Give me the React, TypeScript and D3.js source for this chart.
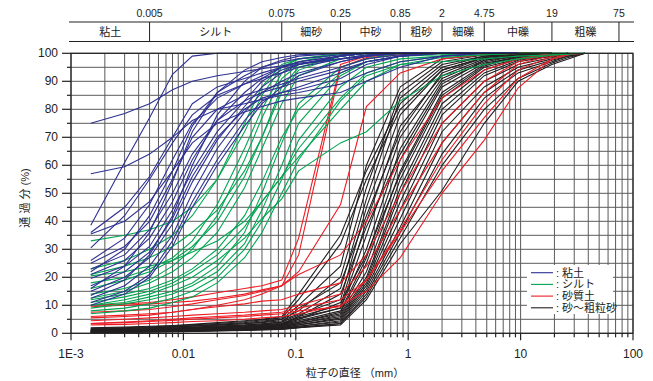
import * as d3 from "d3";

// particle diameters (mm) where each sample was measured
const DIAMETERS = [
  0.0015, 0.003, 0.005, 0.008, 0.012, 0.02, 0.035, 0.05, 0.075, 0.106, 0.25,
  0.425, 0.85, 2, 4.75, 9.5, 19, 26.5, 37.5,
];

// percent passing, one row per sample
const CLAY = [
  [75, 78.5, 82, 87, 90, 92, 93.5, 94.5, 95.5, 96.5, 98, 99, 100, 100, 100, 100],
  [57, 59.5, 64, 70, 76, 80, 82, 83.5, 85, 86, 89, 93, 97, 99, 100, 100],
  [38.6, 61, 77, 92.5, 99, 100, 100, 100, 100, 100, 100, 100, 100, 100, 100, 100],
  [36, 45, 56, 70, 82, 88, 91, 93, 95, 96, 98, 99.5, 100, 100, 100, 100],
  [30.5, 42, 55, 68, 78, 85, 89, 91, 93, 95, 98, 99, 100, 100, 100, 100],
  [26, 34, 46, 62, 75, 84, 89, 92, 95, 97, 99, 100, 100, 100, 100, 100],
  [25, 31, 40, 55, 70, 80, 85, 87, 89, 91, 95, 98, 99.5, 100, 100, 100],
  [23, 28, 37, 50, 64, 76, 83, 86, 88, 90, 94, 97, 99, 100, 100, 100],
  [21, 26, 34, 47, 62, 76, 86, 91, 95, 97, 99, 100, 100, 100, 100, 100],
  [19.6, 24, 31, 44, 58, 72, 83, 90, 94, 96, 99, 100, 100, 100, 100, 100],
  [17, 22, 29, 41, 56, 70, 80, 84, 86, 87, 91, 96, 99, 100, 100, 100],
  [15, 20, 27, 39, 54, 69, 81, 88, 93, 96, 99, 100, 100, 100, 100, 100],
  [12.5, 17, 24, 35, 50, 66, 79, 86, 90, 93, 97, 99, 100, 100, 100, 100],
  [11, 15, 21, 33, 47, 62, 76, 83, 86, 88, 93, 97, 99, 100, 100, 100],
  [10, 14, 20, 31, 45, 60, 74, 82, 88, 92, 97, 99, 100, 100, 100, 100],
  [13.5, 19, 28, 42, 60, 78, 90, 95, 97.5, 99, 100, 100, 100, 100, 100, 100],
  [16, 24, 36, 54, 72, 86, 94, 97, 98.5, 99.5, 100, 100, 100, 100, 100, 100],
  [22, 30, 42, 58, 74, 86, 92, 95, 97, 98, 99.5, 100, 100, 100, 100, 100],
  [35.5, 40, 47, 58, 68, 75, 79, 81, 83, 84, 86, 90, 95, 99, 100, 100],
];

const SILT = [
  [33, 35, 37, 40, 45, 55, 72, 85, 95, 98, 99.5, 100, 100, 100, 100],
  [23, 26, 30, 35, 42, 55, 75, 88, 96, 98, 100, 100, 100, 100],
  [21, 24, 27, 31, 36, 44, 58, 70, 86, 94, 99, 100, 100, 100],
  [12.5, 15, 18, 22, 27, 36, 52, 66, 82, 92, 98, 99.5, 100, 100],
  [12, 14, 16, 19, 23, 30, 42, 54, 70, 80, 93, 97, 99, 100],
  [11, 13, 15, 18, 22, 28, 38, 47, 56, 63, 80, 90, 96, 98.5, 99.5, 100, 100, 100],
  [10, 12, 14, 17, 20, 26, 34, 41, 48, 58, 68, 72, 83, 92, 96, 98, 99.3, 99.7, 100],
  [10, 11, 13, 15, 18, 24, 36, 50, 68, 82, 95, 98, 100, 100],
  [9, 10.5, 12, 14, 17, 22, 32, 44, 60, 75, 92, 97, 99, 99.5, 100, 100],
  [8, 9, 10.5, 12.5, 15, 20, 30, 40, 55, 69, 88, 95, 98, 99, 99.5, 100, 100, 100],
  [7, 8, 9, 11, 13, 18, 27, 36, 50, 62, 83, 92, 96, 97, 98, 99, 99.5, 100, 100],
  [16, 19, 22, 26, 31, 40, 56, 70, 88, 95, 99, 100, 100, 100],
  [18, 20, 23, 27, 33, 46, 66, 80, 93, 97, 100, 100, 100, 100],
  [14, 16, 19, 24, 30, 42, 62, 77, 91, 96, 99, 100, 100, 100],
  [20.5, 22, 24, 26, 29, 33, 40, 47, 56, 66, 84, 93, 97, 99, 100, 100],
];

const SANDY_SOIL = [
  [10, 10.5, 11, 12, 13, 14.5, 16, 17, 19, 34, 96, 99, 100, 100, 100, 100],
  [9.5, 10, 10.5, 11, 11.5, 12.5, 14, 15.5, 17, 28, 95, 98.5, 99.5, 100, 100, 100],
  [5.5, 6, 6.5, 7.5, 8.5, 10, 12, 14, 17, 22, 46, 81, 93, 98, 99.5, 100, 100],
  [7.5, 8, 8.5, 9.5, 10.5, 12, 13.5, 15, 17, 21, 28, 40, 62, 84, 94, 98, 100],
  [6, 6.5, 7, 7.5, 8.5, 9.5, 10.5, 11.5, 12, 14, 18, 28, 50, 75, 90, 97, 100],
  [4.5, 5, 5.5, 6, 6.5, 7, 7.5, 8, 8.5, 10, 14, 24, 44, 68, 86, 96, 99.5, 100],
  [3.5, 4, 4.5, 5, 5.5, 6, 6.5, 7, 7.5, 9, 12, 19, 37, 62, 82, 94, 99, 100],
  [3.5, 3.8, 4.2, 4.6, 5, 5.5, 6, 6.5, 7, 8, 9.5, 19, 36, 58, 77, 91, 98, 100],
  [3, 3.2, 3.5, 3.8, 4.2, 4.5, 5, 5.5, 6, 7, 10, 15, 27, 50, 69, 87.6, 98, 99.5, 100],
];

const SAND = [
  [2, 2.2, 2.5, 2.8, 3.2, 3.8, 4.5, 5, 6, 14, 35, 58, 82, 95, 99, 100, 100],
  [1.8, 2, 2.3, 2.6, 3, 3.5, 4.2, 4.8, 5.5, 12, 32, 55, 80, 94, 98.5, 100, 100],
  [1.5, 1.8, 2, 2.3, 2.6, 3, 3.5, 4, 5, 8, 20, 52, 86, 97, 99.5, 100, 100],
  [1.5, 1.7, 1.9, 2.2, 2.5, 2.9, 3.4, 3.8, 4.5, 7, 16, 48, 84, 96, 99, 100, 100],
  [1.2, 1.4, 1.6, 1.9, 2.2, 2.6, 3, 3.4, 4, 6.5, 12, 45, 78, 94, 98.5, 99.5, 100],
  [1.2, 1.3, 1.5, 1.8, 2, 2.3, 2.7, 3, 3.5, 6, 10, 40, 74, 92, 98, 99.5, 100],
  [1, 1.2, 1.4, 1.6, 1.9, 2.2, 2.6, 3, 3.5, 5.5, 9, 35, 70, 91, 97.5, 99, 100],
  [1, 1.1, 1.3, 1.5, 1.7, 2, 2.4, 2.8, 3.2, 5, 9, 30, 66, 90, 97, 99, 100],
  [0.8, 1, 1.2, 1.4, 1.6, 1.9, 2.2, 2.6, 3, 4.5, 8, 27, 62, 88, 96.5, 98.5, 100],
  [0.8, 0.9, 1.1, 1.3, 1.5, 1.8, 2.1, 2.4, 2.8, 4, 7.5, 25, 58, 86, 96, 98.5, 99.5, 100],
  [0.7, 0.8, 1, 1.2, 1.4, 1.6, 1.9, 2.2, 2.6, 4, 7, 22, 55, 84, 95, 98, 99.5, 100],
  [0.6, 0.8, 0.9, 1.1, 1.3, 1.5, 1.8, 2.1, 2.4, 3.5, 6.5, 20, 52, 82, 94, 98, 99.5, 100],
  [0.6, 0.7, 0.8, 1, 1.2, 1.4, 1.7, 2, 2.3, 3.5, 6, 19, 50, 80, 93, 97.5, 99, 100],
  [0.5, 0.6, 0.8, 0.9, 1.1, 1.3, 1.6, 1.8, 2.1, 3, 5.5, 18, 47, 78, 92, 97, 99, 100],
  [0.5, 0.6, 0.7, 0.9, 1, 1.2, 1.5, 1.7, 2, 3, 5, 17, 44, 75, 90, 96, 98.5, 100],
  [0.5, 0.6, 0.7, 0.8, 0.9, 1.1, 1.4, 1.6, 1.9, 2.5, 4.5, 16, 41, 72, 88, 95, 98, 99.5, 100],
  [0.4, 0.5, 0.6, 0.7, 0.9, 1, 1.3, 1.5, 1.8, 2.5, 4, 15, 38, 68, 86, 94, 97.5, 99, 100],
  [0.4, 0.5, 0.6, 0.7, 0.8, 1, 1.2, 1.4, 1.7, 2.2, 3.5, 14, 36, 64, 84, 93, 97, 99, 100],
  [0.3, 0.4, 0.5, 0.6, 0.7, 0.9, 1.1, 1.3, 1.5, 2, 3.5, 13, 34, 60, 80, 91, 96.5, 98.5, 100],
  [0.3, 0.4, 0.5, 0.6, 0.7, 0.8, 1, 1.2, 1.4, 2, 3, 12, 32, 51, 75, 90, 96, 98, 100],
  [1.5, 1.7, 2, 2.3, 2.7, 3.2, 3.8, 4.4, 5, 10, 24, 60, 88, 98, 99.5, 100, 100],
  [1, 1.2, 1.4, 1.7, 2, 2.4, 2.9, 3.3, 4, 9, 18, 42, 72, 93, 98.5, 100, 100],
  [0.7, 0.9, 1.1, 1.3, 1.5, 1.8, 2.2, 2.6, 3, 6, 14, 38, 64, 89, 97.5, 99.5, 100],
  [0.6, 0.7, 0.9, 1.1, 1.3, 1.6, 2, 2.4, 2.8, 5, 11, 28, 57, 85, 95.5, 99, 100],
];

const GROUPS = [
  { name: ": 砂～粗粒砂", color: "#231f20", rows: SAND },
  { name: ": 砂質土", color: "#ed1c24", rows: SANDY_SOIL },
  { name: ": シルト", color: "#00a651", rows: SILT },
  { name: ": 粘土", color: "#2e3192", rows: CLAY },
];
const LEGEND_ORDER = [3, 2, 1, 0];

const BAND_BOUNDS = [0.005, 0.075, 0.25, 0.85, 2, 4.75, 19, 75];
const BAND_BOUND_LABELS = ["0.005", "0.075", "0.25", "0.85", "2", "4.75", "19", "75"];
const BAND_NAMES = ["粘土", "シルト", "細砂", "中砂", "粗砂", "細礫", "中礫", "粗礫", ""];
const X_LABELS = ["1E-3", "0.01", "0.1", "1", "10", "100"];

const W = 653;
const H = 381;
const FONT = "'Liberation Sans', Arial, 'Noto Sans CJK JP', sans-serif";

export default function App() {
  const x = d3.scaleLog().domain([0.001, 100]).range([71, 633]);
  const y = d3.scaleLinear().domain([0, 100]).range([333.3, 53.3]);
  const [x0, x1] = x.range();
  const [y0, y1] = y.range();

  const xGrid = x.ticks();
  const yGrid = y.ticks(20);
  const decades = X_LABELS.map((_, i) => Math.pow(10, i - 3));

  const line = d3
    .line<number>()
    .x((_, i) => x(DIAMETERS[i]))
    .y((d) => y(d));

  const bandEdges = [0.001, ...BAND_BOUNDS, 100];

  return (
    <svg
      width={W}
      height={H}
      style={{ position: "absolute", left: 0, top: 0, background: "#fff" }}
      fontFamily={FONT}
    >
      {/* grid */}
      {xGrid.map((t) => (
        <line key={"gx" + t} x1={x(t)} x2={x(t)} y1={y1} y2={y0} stroke="#5a5a5a" strokeWidth={1} />
      ))}
      {yGrid.map((t) => (
        <line key={"gy" + t} x1={x0} x2={x1} y1={y(t)} y2={y(t)} stroke="#5a5a5a" strokeWidth={1} />
      ))}

      {/* curves */}
      {GROUPS.map((g) =>
        g.rows.map((row, i) => (
          <path
            key={g.name + i}
            d={line(row) ?? ""}
            fill="none"
            stroke={g.color}
            strokeWidth={1.1}
          />
        ))
      )}

      {/* frame */}
      <rect x={x0} y={y1} width={x1 - x0} height={y0 - y1} fill="none" stroke="#222" strokeWidth={1.2} />

      {/* x ticks */}
      {xGrid.map((t) => {
        const major = decades.some((d) => Math.abs(d - t) / d < 1e-6);
        return (
          <line key={"tx" + t} x1={x(t)} x2={x(t)} y1={y0} y2={y0 + (major ? 7 : 4)} stroke="#222" strokeWidth={1.2} />
        );
      })}
      {X_LABELS.map((l, i) => (
        <text key={l} x={x(decades[i])} y={358} textAnchor="middle" fontSize={12} fill="#222">
          {l}
        </text>
      ))}

      {/* y ticks */}
      {yGrid.map((t) => (
        <line key={"ty" + t} x1={x0 - (t % 10 === 0 ? 9 : 4)} x2={x0} y1={y(t)} y2={y(t)} stroke="#222" strokeWidth={1.2} />
      ))}
      {yGrid
        .filter((t) => t % 10 === 0)
        .map((t) => (
          <text key={"yl" + t} x={58} y={y(t) + 4} textAnchor="end" fontSize={12} fill="#222">
            {t}
          </text>
        ))}

      {/* axis titles */}
      <text x={355} y={377} textAnchor="middle" fontSize={11} fill="#222">
        粒子の直径 （mm）
      </text>
      <text
        transform={`translate(29, 198) rotate(-90)`}
        textAnchor="middle"
        fontSize={11}
        fill="#222"
      >
        通 過 分 (%)
      </text>

      {/* classification band */}
      <line x1={69} x2={634} y1={22} y2={22} stroke="#222" strokeWidth={1} />
      <line x1={69} x2={634} y1={41.5} y2={41.5} stroke="#222" strokeWidth={1} />
      {BAND_BOUNDS.map((b, i) => (
        <g key={"bb" + b}>
          <line x1={x(b)} x2={x(b)} y1={22} y2={41.5} stroke="#222" strokeWidth={1} />
          <text x={x(b)} y={17} textAnchor="middle" fontSize={10.5} fill="#222">
            {BAND_BOUND_LABELS[i]}
          </text>
        </g>
      ))}
      {BAND_NAMES.map((n, i) => (
        <text
          key={"bn" + i}
          x={(x(bandEdges[i]) + x(bandEdges[i + 1])) / 2}
          y={36}
          textAnchor="middle"
          fontSize={11}
          fill="#222"
        >
          {n}
        </text>
      ))}

      {/* legend */}
      <rect x={527} y={265} width={86} height={49} fill="#fff" />
      {LEGEND_ORDER.map((gi, i) => {
        const g = GROUPS[gi];
        const ly = 272.7 + i * 11.7;
        return (
          <g key={"lg" + gi}>
            <line x1={531} x2={553} y1={ly} y2={ly} stroke={g.color} strokeWidth={1.1} />
            <text x={556} y={ly + 4} fontSize={11} fill="#222">
              {g.name}
            </text>
          </g>
        );
      })}
    </svg>
  );
}
